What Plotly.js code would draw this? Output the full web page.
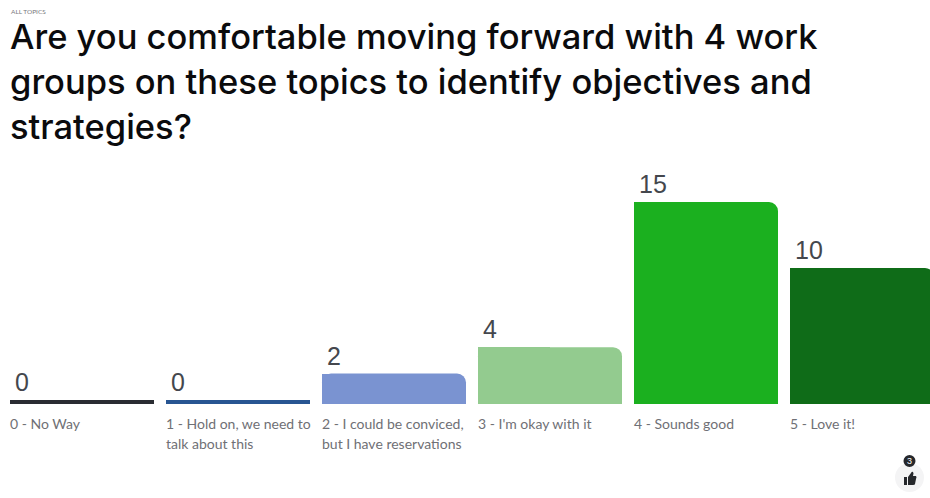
<!DOCTYPE html>
<html>
<head>
<meta charset="utf-8">
<script src="https://cdn.plot.ly/plotly-3.0.1.min.js"></script>
<style>
html,body{margin:0;padding:0;background:#fff;overflow:hidden}
#chart{width:930px;height:498px}
/* Smooth curve on the rounded layer, snapped edges on the square layers */
.barlayer .trace path{shape-rendering:crispEdges !important}
.barlayer .trace:first-child path{shape-rendering:geometricPrecision !important}
</style>
</head>
<body>
<div id="chart"></div>
<script>
// Poll responses per comfort level
const categories = [["0 - No Way"], ["1 - Hold on, we need to", "talk about this"], ["2 - I could be conviced,", "but I have reservations"], ["3 - I'm okay with it"], ["4 - Sounds good"], ["5 - Love it!"]];
const votes = [0, 0, 2, 4, 15, 10];
const barColors = ["#2a2c32", "#285592", "#7a93d1", "#93cb8f", "#1bb01f", "#0f6c18"];
const pollTitle = "Are you comfortable moving forward with 4 work<br>groups on these topics to identify objectives and<br>strategies?";
const sectionLabel = "ALL TOPICS";
const likeCount = "3";

// Every bar keeps a small stub below zero, so empty answers still show a line
const stub = 0.303;
const positions = votes.map((_, i) => i);
const barWidth = 0.923;
const titleFont = "Inter, 'Noto Sans', sans-serif";

// A rounded shape with square pieces laid over its left half and its lower part:
// only the top-right corner ends up rounded
const rounded = {
  type: "bar", x: positions, y: votes.map(v => v + stub), base: votes.map(() => -stub),
  width: barWidth, marker: {color: barColors, cornerradius: 9}, hoverinfo: "skip"
};
const squareHalf = {
  type: "bar", x: positions, y: votes.map(v => v + stub), base: votes.map(() => -stub),
  width: barWidth / 2, offset: -barWidth / 2, marker: {color: barColors}, hoverinfo: "skip"
};
const squareLower = {
  type: "bar", x: positions, y: votes.map(v => Math.max(stub, v - 0.38)), base: votes.map(() => -stub),
  width: barWidth, marker: {color: barColors}, hoverinfo: "skip"
};

const valueLabels = votes.map((v, i) => ({
  x: i, y: v, xref: "x", yref: "y", text: String(v), showarrow: false,
  xanchor: "left", yanchor: "bottom", xshift: -69, yshift: 2, align: "left",
  font: {family: "'Liberation Sans', Arial, sans-serif", size: 25, color: "#44474d"}
}));
// Each wrapped line gets its own label for a 20px line pitch
const categoryLabels = categories.flatMap((lines, i) => lines.map((line, k) => ({
  x: i, y: -1.0, xref: "x", yref: "y", text: line, showarrow: false,
  xanchor: "left", yanchor: "top", xshift: -74.5, yshift: -20 * k, align: "left",
  font: {family: "Lato, sans-serif", size: 14, color: "#6f7075"}
})));
const likeBadge = [
  {x: 909.5, y: 461, xref: "x2", yref: "y2", text: likeCount, showarrow: false,
   font: {family: "'Liberation Sans', sans-serif", size: 9, color: "#ffffff"}}
];

const layout = {
  width: 930, height: 498, margin: {l: 0, r: 0, t: 0, b: 0},
  paper_bgcolor: "#fff", plot_bgcolor: "#fff", showlegend: false, barmode: "overlay",
  title: {text: pollTitle, x: 10 / 930, xanchor: "left", xref: "paper", y: 1 - 49 / 498, yanchor: "top",
    font: {family: titleFont, size: 34.5, weight: 500, color: "#0b0b0d"}},
  xaxis: {range: [-82 / 156, 848 / 156], visible: false, fixedrange: true},
  yaxis: {range: [-98 / 13.2, 400 / 13.2], visible: false, fixedrange: true},
  xaxis2: {range: [0, 930], visible: false, overlaying: "x", fixedrange: true},
  yaxis2: {range: [498, 0], visible: false, overlaying: "y", fixedrange: true},
  annotations: [
    {x: 9 / 930, y: 1 - 11 / 498, xref: "paper", yref: "paper", text: sectionLabel, showarrow: false,
     xanchor: "left", yanchor: "middle", font: {family: "Lato, sans-serif", size: 6.5, color: "#77787c"}},
    ...valueLabels, ...categoryLabels, ...likeBadge
  ],
  shapes: [
    {type: "circle", xref: "x2", yref: "y2", x0: 895, x1: 924, y0: 463, y1: 492, fillcolor: "#f4f4f5", line: {width: 0}, layer: "below"},
    {type: "circle", xref: "x2", yref: "y2", x0: 903.5, x1: 915.5, y0: 455, y1: 467, fillcolor: "#26282c", line: {width: 0}},
    // Thumbs-up glyph
    {type: "path", xref: "x2", yref: "y2", fillcolor: "#26282c", line: {width: 0},
     path: "M904 477 H907 V485 H904 Z M908 477 L911 473 Q912 471 913 472 Q914 473 913 476 L916 476 Q917 477 916 479 L915 484 Q915 485 913 485 L908 485 Z"}
  ]
};

Plotly.newPlot("chart", [rounded, squareHalf, squareLower], layout, {displayModeBar: false, responsive: false});
</script>
</body>
</html>
